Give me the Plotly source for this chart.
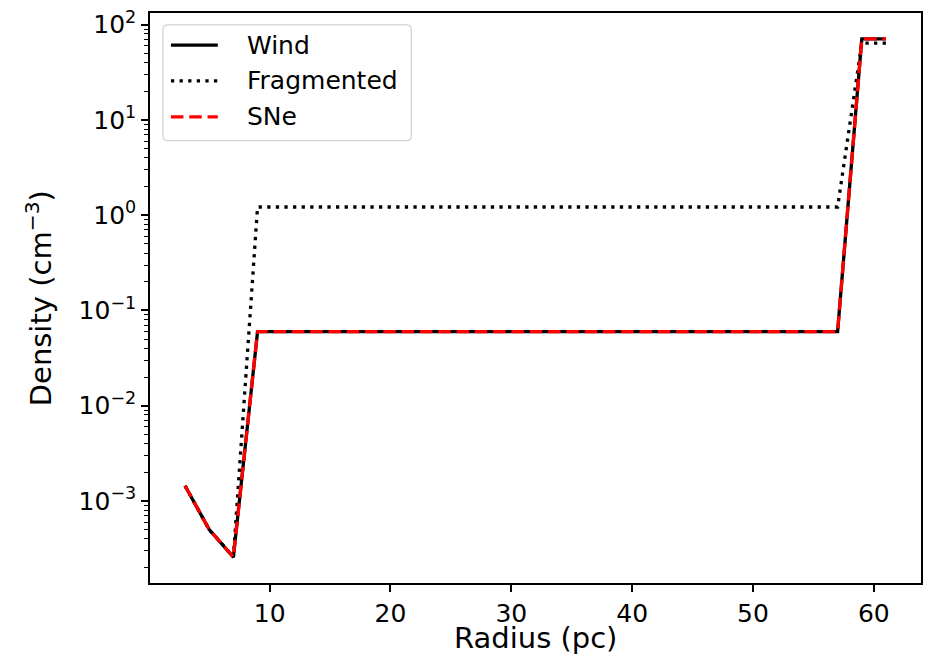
import math
import plotly.graph_objects as go

# Radial profile samples (pc)
radius = [3, 5, 7, 9, 11, 13, 15, 17, 19, 21, 23, 25, 27, 29, 31,
          33, 35, 37, 39, 41, 43, 45, 47, 49, 51, 53, 55, 57, 59, 61]

# Density (cm^-3) for each feedback model
wind = [1.44e-3, 5.0e-4, 2.57e-4,
        0.06, 0.06, 0.06, 0.06, 0.06, 0.06, 0.06, 0.06, 0.06,
        0.06, 0.06, 0.06, 0.06, 0.06, 0.06, 0.06, 0.06, 0.06,
        0.06, 0.06, 0.06, 0.06, 0.06, 0.06, 0.06,
        71.0, 71.0]
fragmented = [1.44e-3, 5.0e-4, 2.57e-4,
              1.22, 1.22, 1.22, 1.22, 1.22, 1.22, 1.22, 1.22, 1.22,
              1.22, 1.22, 1.22, 1.22, 1.22, 1.22, 1.22, 1.22, 1.22,
              1.22, 1.22, 1.22, 1.22, 1.22, 1.22, 1.22,
              64.0, 64.0]
sne = [1.44e-3, 5.0e-4, 2.57e-4,
       0.06, 0.06, 0.06, 0.06, 0.06, 0.06, 0.06, 0.06, 0.06,
       0.06, 0.06, 0.06, 0.06, 0.06, 0.06, 0.06, 0.06, 0.06,
       0.06, 0.06, 0.06, 0.06, 0.06, 0.06, 0.06,
       71.0, 71.0]

series_names = ["Wind", "Fragmented", "SNe"]
x_ticks = [10, 20, 30, 40, 50, 60]
y_ticks = [1e-3, 1e-2, 1e-1, 1e0, 1e1, 1e2]
y_ticktext = ["10<sup>\u22123</sup>", "10<sup>\u22122</sup>", "10<sup>\u22121</sup>",
              "10<sup>0</sup>", "10<sup>1</sup>", "10<sup>2</sup>"]

FONT = "DejaVu Sans"
LW = 3.3
styles = [
    dict(color="black", width=LW, dash="solid"),
    dict(color="black", width=LW, dash="3.3px,5.3px"),
    dict(color="#ff0000", width=LW, dash="12.5px,5.8px"),
]

# figure / plot-area geometry in pixels
FIG_W, FIG_H = 930, 659
L, R, T, B = 150, 7, 7, 76
PW, PH = FIG_W - L - R, FIG_H - T - B


def px_x(p):
    return (p - L) / PW


def px_y(p):
    return 1 - (p - T) / PH


# autoscale with 5% padding (linear x, log y)
xmin, xmax = min(radius), max(radius)
xpad = 0.05 * (xmax - xmin)
all_y = wind + fragmented + sne
lymin, lymax = math.log10(min(all_y)), math.log10(max(all_y))
ypad = 0.05 * (lymax - lymin)

fig = go.Figure()
for name, vals, st in zip(series_names, [wind, fragmented, sne], styles):
    fig.add_trace(go.Scatter(x=radius, y=vals, mode="lines", name=name,
                             line=st, showlegend=False))

minor_vals = [m * 10.0 ** e for e in range(-4, 3) for m in range(2, 10)]

axis_common = dict(
    showline=True, mirror=True, linecolor="black", linewidth=1.6,
    ticks="outside", ticklen=7, tickwidth=1.6, tickcolor="black",
    showgrid=False, zeroline=False,
    tickfont=dict(family=FONT, size=25, color="black"),
)

fig.update_xaxes(range=[xmin - xpad, xmax + xpad], tickvals=x_ticks,
                 ticktext=[str(v) for v in x_ticks], **axis_common)
fig.update_yaxes(type="log", range=[lymin - ypad, lymax + ypad],
                 tickvals=y_ticks, ticktext=y_ticktext,
                 minor=dict(tickvals=minor_vals, ticks="outside", ticklen=4,
                            tickwidth=1.3, tickcolor="black"),
                 **axis_common)

annotations = [
    dict(text="Radius (pc)", xref="paper", yref="paper", x=px_x(536), y=px_y(639),
         xanchor="center", yanchor="middle", showarrow=False, borderpad=0,
         font=dict(family=FONT, size=29, color="black")),
    dict(text="Density (cm<sup>\u22123</sup>)", xref="paper", yref="paper",
         x=px_x(39), y=px_y(295), xanchor="center", yanchor="middle",
         textangle=-90, showarrow=False, borderpad=0,
         font=dict(family=FONT, size=29, color="black")),
]

# legend box with rounded corners
bx0, bx1, by0, by1, rad = 163, 412, 19, 136, 5
x0, x1 = px_x(bx0), px_x(bx1)
yt, yb = px_y(by0), px_y(by1)
rx, ry = rad / PW, rad / PH
box_path = (f"M {x0+rx},{yt} L {x1-rx},{yt} Q {x1},{yt} {x1},{yt-ry} "
            f"L {x1},{yb+ry} Q {x1},{yb} {x1-rx},{yb} L {x0+rx},{yb} "
            f"Q {x0},{yb} {x0},{yb+ry} L {x0},{yt-ry} Q {x0},{yt} {x0+rx},{yt} Z")
shapes = [dict(type="path", xref="paper", yref="paper", path=box_path,
               fillcolor="rgba(255,255,255,0.8)",
               line=dict(color="#d3d3d3", width=1.3))]

rows = [39.5, 75.5, 112]
for name, st, ry_px in zip(series_names, styles, rows):
    shapes.append(dict(type="line", xref="paper", yref="paper",
                       x0=px_x(171), x1=px_x(218), y0=px_y(ry_px), y1=px_y(ry_px),
                       line=st))
    annotations.append(dict(text=name, xref="paper", yref="paper",
                            x=px_x(245), y=px_y(ry_px), xanchor="left",
                            yanchor="middle", showarrow=False,
                            font=dict(family=FONT, size=25, color="black")))

fig.update_layout(
    width=FIG_W, height=FIG_H,
    margin=dict(l=L, r=R, t=T, b=B),
    paper_bgcolor="white", plot_bgcolor="white",
    font=dict(family=FONT, color="black"),
    shapes=shapes, annotations=annotations,
    showlegend=False,
)

fig.write_html("out.html")
